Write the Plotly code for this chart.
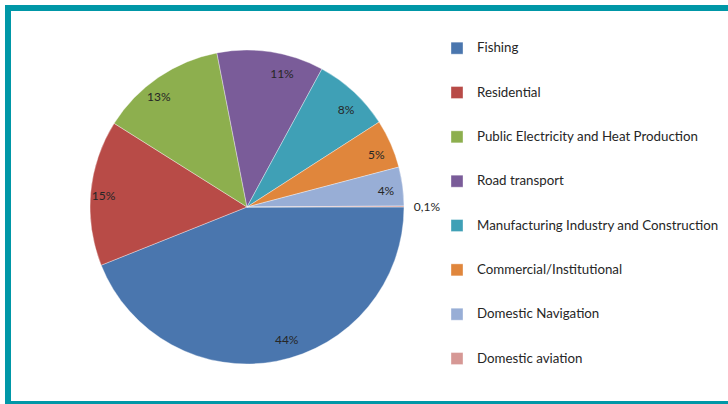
import plotly.graph_objects as go

categories = ["Fishing", "Residential", "Public Electricity and Heat Production",
              "Road transport", "Manufacturing Industry and Construction",
              "Commercial/Institutional", "Domestic Navigation", "Domestic aviation"]
shares = [44, 15, 13, 11, 8, 5, 4, 0.1]
colors = ["#4A76AE", "#B84B47", "#8DAF4E", "#7A5C99", "#3FA0B6", "#E0863C", "#98AED6", "#D69895"]

W, H = 728, 404

def fmt(v):
    s = ("%g" % v).replace(".", ",")
    return s + "%"

texts = [fmt(v) for v in shares]
legend_labels = [" <br><span style='font-size:13.3px'>" + c + "</span><br> " for c in categories]
n = len(shares)
rim_text = texts[:-1] + [""]
out_text = [""] * (n - 1) + [texts[-1]]

cx, cy, r = 247, 207, 157

def dom(rad):
    return dict(x=[(cx - rad) / W, (cx + rad) / W], y=[(H - cy - rad) / H, (H - cy + rad) / H])

label_font = dict(family="Lato, Open Sans, sans-serif", size=12, color="#262626")

common = dict(labels=legend_labels, values=shares, textinfo="text", textposition="outside",
              sort=False, direction="clockwise", rotation=90, hoverinfo="skip",
              textfont=label_font)

fig = go.Figure()
fig.add_trace(go.Pie(
    text=[""] * n,
    marker=dict(colors=colors, line=dict(color="rgba(255,255,255,0.6)", width=0.6)),
    domain=dom(r), showlegend=True, **common))
# transparent helper pies only carry the data labels (inside near rim, and the tiny slice outside)
fig.add_trace(go.Pie(
    text=rim_text,
    marker=dict(colors=["rgba(0,0,0,0)"] * n, line=dict(width=0)),
    domain=dom(128), showlegend=False, **common))
fig.add_trace(go.Pie(
    text=out_text,
    marker=dict(colors=["rgba(0,0,0,0)"] * n, line=dict(width=0)),
    domain=dom(163), showlegend=False, **common))

teal = "#0097A7"
shapes = [
    dict(type="rect", xref="paper", yref="paper", x0=5 / W, x1=1, y0=1 - 11 / H, y1=1 - 5 / H,
         fillcolor=teal, line=dict(width=0), layer="above"),
    dict(type="rect", xref="paper", yref="paper", x0=5 / W, x1=11 / W, y0=0, y1=1 - 5 / H,
         fillcolor=teal, line=dict(width=0), layer="above"),
    dict(type="rect", xref="paper", yref="paper", x0=5 / W, x1=1, y0=0, y1=3 / H,
         fillcolor=teal, line=dict(width=0), layer="above"),
]

fig.update_layout(
    width=W, height=H,
    margin=dict(l=0, r=0, t=0, b=0),
    paper_bgcolor="white", plot_bgcolor="white",
    shapes=shapes,
    showlegend=True,
    legend=dict(x=437 / W, y=1 - 21 / H, xanchor="left", yanchor="top",
                font=dict(family="Lato, sans-serif", size=10.6, color="#262626"),
                bgcolor="rgba(0,0,0,0)", valign="middle"),
)

fig.write_html("out.html", config={"displayModeBar": False},
               post_script="document.body.style.margin='0';")
